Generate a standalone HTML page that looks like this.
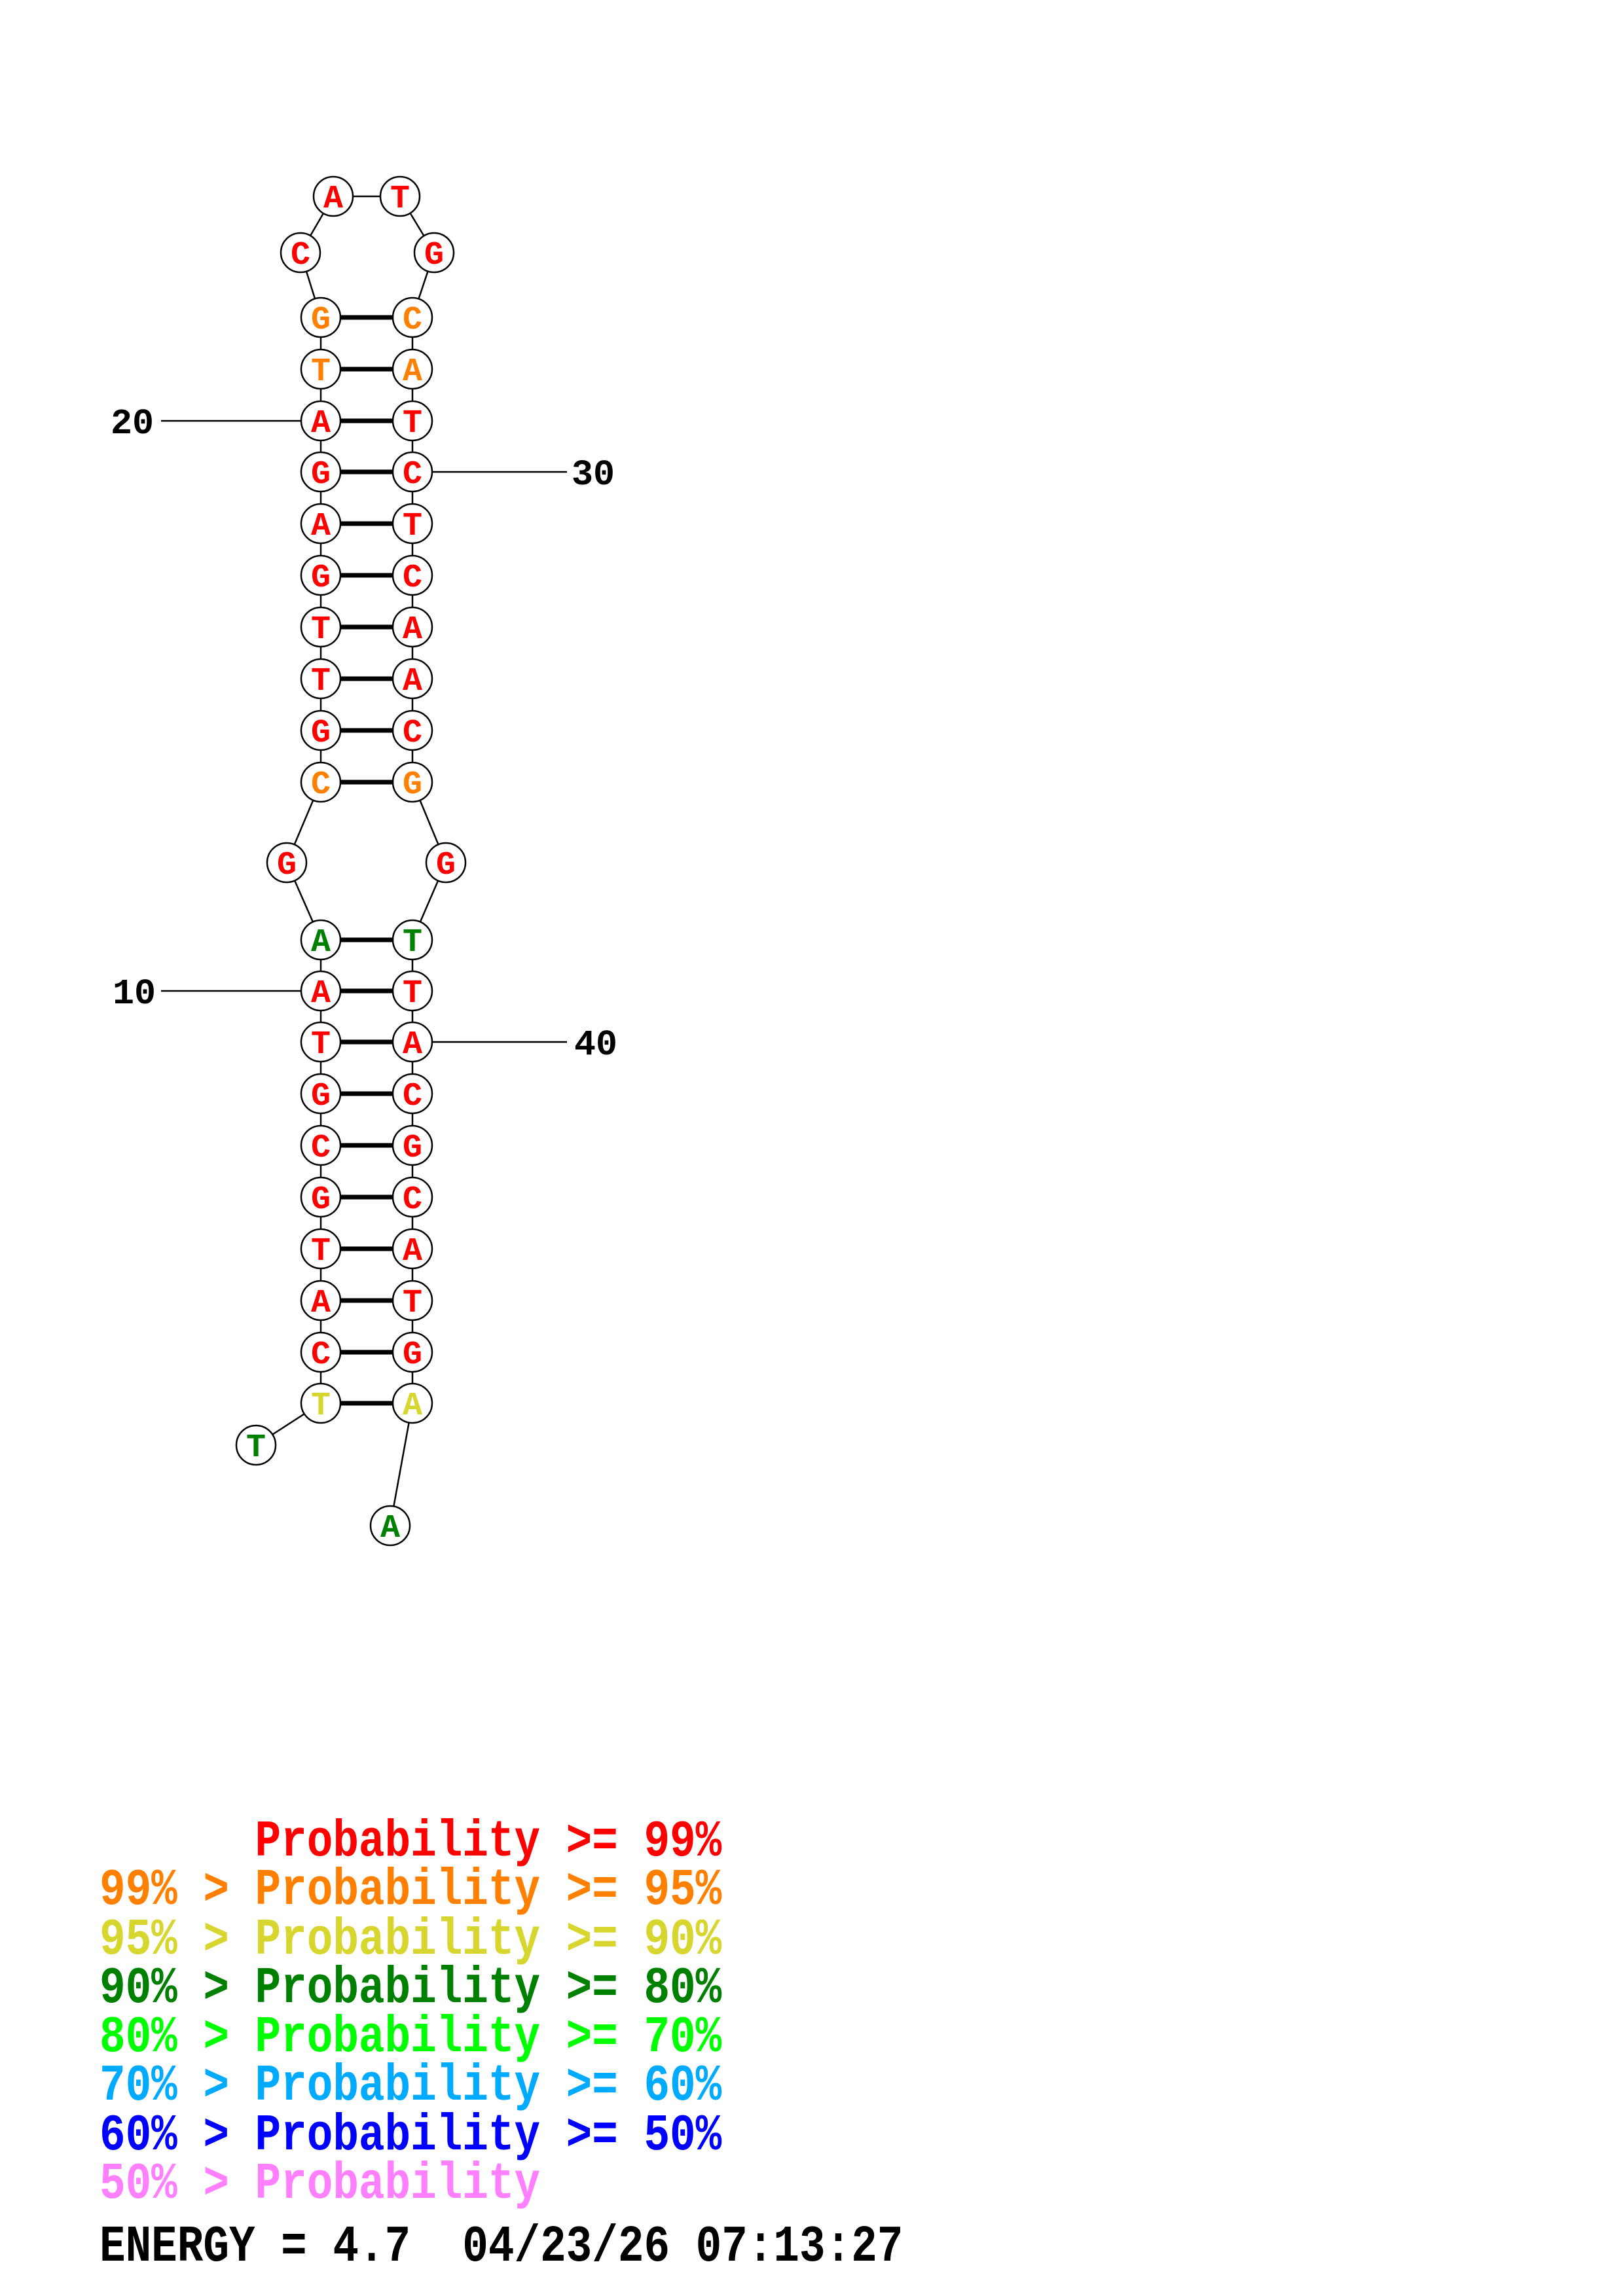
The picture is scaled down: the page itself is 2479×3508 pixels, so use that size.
<!DOCTYPE html>
<html><head><meta charset="utf-8"><style>
html,body{margin:0;padding:0;background:#fff;}
svg{display:block;}
text{font-family:"Liberation Mono",monospace;font-weight:bold;white-space:pre;}
</style></head><body>
<svg width="2479" height="3508" viewBox="0 0 2479 3508" xmlns="http://www.w3.org/2000/svg">
<g stroke="#000" stroke-width="2.5" fill="none">
<line x1="490" y1="485" x2="490" y2="1195"/>
<line x1="630" y1="485" x2="630" y2="1195"/>
<line x1="490" y1="1436" x2="490" y2="2144"/>
<line x1="630" y1="1436" x2="630" y2="2144"/>
<polyline points="490,485 459,386 509,300 611,300 663,386 630,485"/>
<polyline points="490,1195 438,1318 490,1436"/>
<polyline points="630,1195 681,1318 630,1436"/>
<line x1="490" y1="2144" x2="391" y2="2208"/>
<line x1="630" y1="2144" x2="596" y2="2331"/>
<line x1="246" y1="643" x2="490" y2="643"/>
<line x1="630" y1="721" x2="866" y2="721"/>
<line x1="246" y1="1514" x2="490" y2="1514"/>
<line x1="630" y1="1592" x2="866" y2="1592"/>
</g>
<g stroke="#000" stroke-width="7">
<line x1="490" y1="485" x2="630" y2="485"/><line x1="490" y1="564" x2="630" y2="564"/>
<line x1="490" y1="643" x2="630" y2="643"/><line x1="490" y1="721" x2="630" y2="721"/>
<line x1="490" y1="800" x2="630" y2="800"/><line x1="490" y1="879" x2="630" y2="879"/>
<line x1="490" y1="958" x2="630" y2="958"/><line x1="490" y1="1037" x2="630" y2="1037"/>
<line x1="490" y1="1116" x2="630" y2="1116"/><line x1="490" y1="1195" x2="630" y2="1195"/>
<line x1="490" y1="1436" x2="630" y2="1436"/><line x1="490" y1="1514" x2="630" y2="1514"/>
<line x1="490" y1="1592" x2="630" y2="1592"/><line x1="490" y1="1671" x2="630" y2="1671"/>
<line x1="490" y1="1750" x2="630" y2="1750"/><line x1="490" y1="1829" x2="630" y2="1829"/>
<line x1="490" y1="1908" x2="630" y2="1908"/><line x1="490" y1="1987" x2="630" y2="1987"/>
<line x1="490" y1="2066" x2="630" y2="2066"/><line x1="490" y1="2144" x2="630" y2="2144"/>
</g>
<g fill="#fff" stroke="#000" stroke-width="2.5">
<circle cx="509" cy="300" r="30"/><circle cx="611" cy="300" r="30"/>
<circle cx="459" cy="386" r="30"/><circle cx="663" cy="386" r="30"/>
<circle cx="438" cy="1318" r="30"/><circle cx="681" cy="1318" r="30"/>
<circle cx="391" cy="2208" r="30"/><circle cx="596" cy="2331" r="30"/>
<circle cx="490" cy="485" r="30"/><circle cx="630" cy="485" r="30"/>
<circle cx="490" cy="564" r="30"/><circle cx="630" cy="564" r="30"/>
<circle cx="490" cy="643" r="30"/><circle cx="630" cy="643" r="30"/>
<circle cx="490" cy="721" r="30"/><circle cx="630" cy="721" r="30"/>
<circle cx="490" cy="800" r="30"/><circle cx="630" cy="800" r="30"/>
<circle cx="490" cy="879" r="30"/><circle cx="630" cy="879" r="30"/>
<circle cx="490" cy="958" r="30"/><circle cx="630" cy="958" r="30"/>
<circle cx="490" cy="1037" r="30"/><circle cx="630" cy="1037" r="30"/>
<circle cx="490" cy="1116" r="30"/><circle cx="630" cy="1116" r="30"/>
<circle cx="490" cy="1195" r="30"/><circle cx="630" cy="1195" r="30"/>
<circle cx="490" cy="1436" r="30"/><circle cx="630" cy="1436" r="30"/>
<circle cx="490" cy="1514" r="30"/><circle cx="630" cy="1514" r="30"/>
<circle cx="490" cy="1592" r="30"/><circle cx="630" cy="1592" r="30"/>
<circle cx="490" cy="1671" r="30"/><circle cx="630" cy="1671" r="30"/>
<circle cx="490" cy="1750" r="30"/><circle cx="630" cy="1750" r="30"/>
<circle cx="490" cy="1829" r="30"/><circle cx="630" cy="1829" r="30"/>
<circle cx="490" cy="1908" r="30"/><circle cx="630" cy="1908" r="30"/>
<circle cx="490" cy="1987" r="30"/><circle cx="630" cy="1987" r="30"/>
<circle cx="490" cy="2066" r="30"/><circle cx="630" cy="2066" r="30"/>
<circle cx="490" cy="2144" r="30"/><circle cx="630" cy="2144" r="30"/>
</g>
<g font-size="50" text-anchor="middle">
<text x="509" y="317" fill="#f00">A</text><text x="611" y="317" fill="#f00">T</text>
<text x="459" y="403" fill="#f00">C</text><text x="663" y="403" fill="#f00">G</text>
<text x="438" y="1335" fill="#f00">G</text><text x="681" y="1335" fill="#f00">G</text>
<text x="391" y="2225" fill="#008000">T</text><text x="596" y="2348" fill="#008000">A</text>
<text x="490" y="502" fill="#ff8000">G</text><text x="630" y="502" fill="#ff8000">C</text>
<text x="490" y="581" fill="#ff8000">T</text><text x="630" y="581" fill="#ff8000">A</text>
<text x="490" y="660" fill="#f00">A</text><text x="630" y="660" fill="#f00">T</text>
<text x="490" y="738" fill="#f00">G</text><text x="630" y="738" fill="#f00">C</text>
<text x="490" y="817" fill="#f00">A</text><text x="630" y="817" fill="#f00">T</text>
<text x="490" y="896" fill="#f00">G</text><text x="630" y="896" fill="#f00">C</text>
<text x="490" y="975" fill="#f00">T</text><text x="630" y="975" fill="#f00">A</text>
<text x="490" y="1054" fill="#f00">T</text><text x="630" y="1054" fill="#f00">A</text>
<text x="490" y="1133" fill="#f00">G</text><text x="630" y="1133" fill="#f00">C</text>
<text x="490" y="1212" fill="#ff8000">C</text><text x="630" y="1212" fill="#ff8000">G</text>
<text x="490" y="1453" fill="#008000">A</text><text x="630" y="1453" fill="#008000">T</text>
<text x="490" y="1531" fill="#f00">A</text><text x="630" y="1531" fill="#f00">T</text>
<text x="490" y="1609" fill="#f00">T</text><text x="630" y="1609" fill="#f00">A</text>
<text x="490" y="1688" fill="#f00">G</text><text x="630" y="1688" fill="#f00">C</text>
<text x="490" y="1767" fill="#f00">C</text><text x="630" y="1767" fill="#f00">G</text>
<text x="490" y="1846" fill="#f00">G</text><text x="630" y="1846" fill="#f00">C</text>
<text x="490" y="1925" fill="#f00">T</text><text x="630" y="1925" fill="#f00">A</text>
<text x="490" y="2004" fill="#f00">A</text><text x="630" y="2004" fill="#f00">T</text>
<text x="490" y="2083" fill="#f00">C</text><text x="630" y="2083" fill="#f00">G</text>
<text x="490" y="2161" fill="#d6d62e">T</text><text x="630" y="2161" fill="#d6d62e">A</text>
</g>
<g font-size="55" fill="#000">
<text x="169" y="662">20</text>
<text x="873" y="740">30</text>
<text x="172" y="1533">10</text>
<text x="877" y="1611">40</text>
</g>
<g font-size="66">
<text transform="translate(152,2835) scale(1,1.2)" fill="#f00">      Probability &gt;= 99%</text>
<text transform="translate(152,2909) scale(1,1.2)" fill="#ff8000">99% &gt; Probability &gt;= 95%</text>
<text transform="translate(152,2985) scale(1,1.2)" fill="#d6d62e">95% &gt; Probability &gt;= 90%</text>
<text transform="translate(152,3059) scale(1,1.2)" fill="#008000">90% &gt; Probability &gt;= 80%</text>
<text transform="translate(152,3134) scale(1,1.2)" fill="#00ff00">80% &gt; Probability &gt;= 70%</text>
<text transform="translate(152,3208) scale(1,1.2)" fill="#00aaff">70% &gt; Probability &gt;= 60%</text>
<text transform="translate(152,3284) scale(1,1.2)" fill="#0000ff">60% &gt; Probability &gt;= 50%</text>
<text transform="translate(152,3358) scale(1,1.2)" fill="#ff80ff">50% &gt; Probability</text>
<text transform="translate(152,3454) scale(1,1.2)" fill="#000">ENERGY = 4.7  04/23/26 07:13:27</text>
</g>
</svg>
</body></html>
